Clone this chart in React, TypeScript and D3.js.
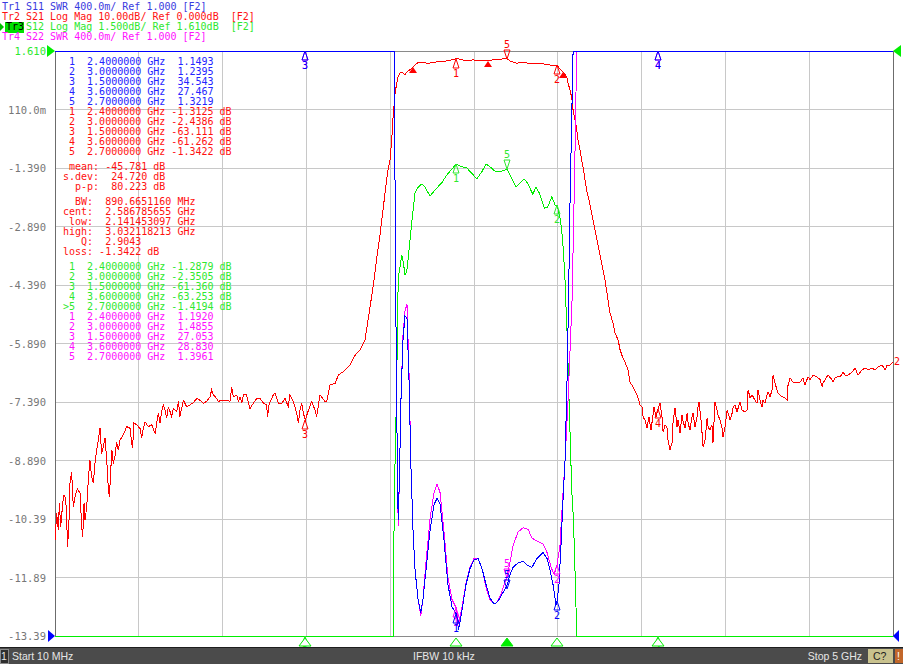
import React from 'react';
import * as d3 from 'd3';

// ---- sweep / scale settings ----
const startGHz = 0.01;
const stopGHz = 5;
const s21Ref = [-100, 0];          // 10 dB/div, ref 0 dB at top
const s12Ref = [-13.39, 1.61];     // 1.5 dB/div, ref 1.610 dB at top
const swrRef = [1, 5];             // 400m/div, ref 1.000 at bottom

const headerLines = [
  { tag: 'Tr1', rest: 'S11 SWR 400.0m/ Ref 1.000 [F2]', trace: 's11' },
  { tag: 'Tr2', rest: 'S21 Log Mag 10.00dB/ Ref 0.000dB  [F2]', trace: 's21' },
  { tag: 'Tr3', rest: 'S12 Log Mag 1.500dB/ Ref 1.610dB  [F2]', trace: 's12' },
  { tag: 'Tr4', rest: 'S22 SWR 400.0m/ Ref 1.000 [F2]', trace: 's22' },
];

const yTickLabels = ['1.610', '110.0m', '-1.390', '-2.890', '-4.390', '-5.890', '-7.390', '-8.890', '-10.39', '-11.89', '-13.39'];

// ---- markers ----
const markerFreqs = [2.4, 3.0, 1.5, 3.6, 2.7];
const markerFreqText = ['2.4000000', '3.0000000', '1.5000000', '3.6000000', '2.7000000'];
const s11Marks = ['1.1493', '1.2395', '34.543', '27.467', '1.3219'];
const s21Marks = ['-1.3125', '-2.4386', '-63.111', '-61.262', '-1.3422'];
const s12Marks = ['-1.2879', '-2.3505', '-61.360', '-63.253', '-1.4194'];
const s22Marks = ['1.1920', '1.4855', '27.053', '28.830', '1.3961'];

const statsLines = [['mean:', '-45.781'], ['s.dev:', '24.720'], ['p-p:', '80.223']];
const bwLines = [
  ['BW:', '890.6651160', 'MHz'],
  ['cent:', '2.586785655', 'GHz'],
  ['low:', '2.141453097', 'GHz'],
  ['high:', '3.032118213', 'GHz'],
  ['Q:', '2.9043', ''],
  ['loss:', '-1.3422', 'dB'],
];
const bwFreqs = [2.141453097, 2.586785655, 3.032118213];

// ---- traces: [GHz, value] ----
const s21Points: [number, number][] = [
  [0.01,-83.6],[0.020,-79.0],[0.030,-81.9],[0.036,-77.3],[0.044,-81.3],[0.056,-77.3],[0.064,-75.9],[0.074,-76.5],[0.080,-80.7],[0.085,-84.7],
  [0.093,-80.7],[0.099,-73.9],[0.109,-71.9],[0.119,-77.9],[0.129,-76.2],[0.143,-74.8],[0.159,-75.6],[0.169,-81.3],[0.175,-83.0],[0.183,-77.3],
  [0.189,-80.2],[0.199,-77.9],[0.209,-73.0],[0.218,-69.9],[0.228,-72.8],[0.238,-73.9],[0.248,-70.5],[0.258,-68.2],[0.268,-66.5],[0.278,-64.5],
  [0.288,-68.8],[0.298,-67.6],[0.308,-66.2],[0.318,-69.9],[0.328,-75.0],[0.334,-76.2],[0.342,-71.6],[0.349,-68.2],[0.357,-70.5],[0.367,-69.3],
  [0.377,-66.8],[0.387,-68.2],[0.397,-66.5],[0.417,-65.6],[0.437,-64.2],[0.457,-64.5],[0.466,-66.8],[0.472,-67.9],[0.480,-63.6],[0.496,-63.9],
  [0.516,-64.5],[0.526,-66.2],[0.536,-64.5],[0.546,-63.4],[0.566,-64.2],[0.586,-63.9],[0.606,-65.4],[0.616,-63.6],[0.625,-61.9],[0.635,-63.6],
  [0.645,-61.7],[0.655,-60.5],[0.665,-61.4],[0.675,-62.8],[0.685,-60.8],[0.705,-62.5],[0.715,-61.1],[0.735,-61.6],[0.745,-59.9],[0.754,-62.5],
  [0.774,-59.7],[0.794,-60.8],[0.814,-60.5],[0.834,-60.1],[0.854,-59.4],[0.874,-59.7],[0.894,-60.2],[0.913,-59.9],[0.933,-59.1],[0.943,-57.9],
  [0.953,-58.8],[0.973,-59.4],[0.983,-59.9],[1.003,-59.7],[1.033,-59.7],[1.052,-59.9],[1.062,-57.4],[1.072,-59.1],[1.092,-58.8],[1.102,-59.9],
  [1.112,-59.1],[1.122,-60.2],[1.132,-58.8],[1.151,-58.8],[1.171,-61.1],[1.191,-60.2],[1.211,-59.4],[1.231,-59.4],[1.251,-60.2],[1.270,-60.5],
  [1.276,-62.5],[1.286,-60.2],[1.310,-58.8],[1.320,-58.5],[1.340,-60.2],[1.360,-60.2],[1.380,-59.4],[1.399,-60.8],[1.409,-58.8],[1.429,-59.9],
  [1.449,-61.9],[1.459,-63.6],[1.469,-61.4],[1.479,-60.2],[1.489,-61.9],[1.500,-63.1],[1.519,-61.4],[1.539,-59.9],[1.558,-61.4],[1.568,-62.5],
  [1.588,-58.8],[1.618,-59.9],[1.628,-59.9],[1.648,-57.1],[1.678,-56.8],[1.697,-55.4],[1.727,-54.8],[1.737,-54.5],[1.767,-53.7],[1.797,-52.0],
  [1.826,-51.1],[1.856,-49.4],[1.874,-46.0],[1.892,-42.6],[1.910,-39.1],[1.928,-34.9],[1.945,-31.5],[1.963,-27.2],[1.981,-22.9],[1.993,-20.3],
  [2.005,-18.6],[2.015,-15.2],[2.023,-11.3],[2.035,-7.2],[2.045,-5.5],[2.053,-4.4],[2.064,-3.8],[2.075,-3.6],[2.082,-3.8],[2.094,-4.1],
  [2.104,-3.6],[2.124,-3.2],[2.142,-2.7],[2.164,-2.1],[2.184,-1.9],[2.231,-2.1],[2.273,-1.9],[2.343,-1.7],[2.400,-1.3],[2.422,-1.4],
  [2.462,-1.7],[2.499,-1.5],[2.541,-1.7],[2.581,-1.7],[2.618,-1.5],[2.660,-1.4],[2.700,-1.3],[2.720,-1.7],[2.759,-2.1],[2.797,-1.9],
  [2.839,-2.2],[2.879,-2.1],[2.916,-2.2],[2.958,-2.4],[3.000,-2.4],[3.017,-3.1],[3.035,-3.6],[3.057,-4.4],[3.065,-5.5],[3.077,-6.7],
  [3.087,-8.0],[3.095,-10.1],[3.107,-11.8],[3.117,-13.5],[3.124,-15.2],[3.136,-16.9],[3.146,-18.6],[3.154,-19.8],[3.176,-23.8],[3.196,-26.3],
  [3.226,-30.6],[3.255,-34.9],[3.285,-39.1],[3.303,-42.6],[3.315,-44.8],[3.333,-46.5],[3.345,-48.2],[3.363,-49.4],[3.375,-51.1],[3.392,-52.5],
  [3.404,-53.2],[3.422,-54.5],[3.434,-56.6],[3.452,-57.4],[3.476,-58.8],[3.494,-60.5],[3.506,-60.9],[3.512,-62.6],[3.524,-63.1],[3.535,-64.4],
  [3.547,-62.6],[3.559,-64.8],[3.571,-62.2],[3.577,-60.9],[3.589,-62.6],[3.600,-61.3],[3.613,-60.2],[3.625,-62.6],[3.631,-65.1],[3.643,-63.9],
  [3.654,-64.3],[3.660,-66.5],[3.672,-68.2],[3.684,-67.0],[3.690,-63.6],[3.702,-61.0],[3.714,-64.3],[3.720,-63.1],[3.732,-65.3],[3.744,-62.2],
  [3.750,-63.4],[3.762,-64.4],[3.774,-61.9],[3.780,-63.6],[3.791,-64.8],[3.803,-62.6],[3.809,-61.9],[3.821,-64.3],[3.833,-62.6],[3.839,-60.9],
  [3.845,-60.0],[3.857,-63.1],[3.863,-65.3],[3.869,-67.7],[3.881,-66.5],[3.893,-62.7],[3.899,-64.3],[3.910,-64.8],[3.922,-63.9],[3.928,-67.0],
  [3.940,-60.0],[3.952,-61.4],[3.958,-62.2],[3.970,-63.1],[3.982,-64.4],[3.988,-66.0],[4.000,-64.3],[4.012,-61.4],[4.018,-61.9],[4.030,-63.1],
  [4.042,-61.9],[4.048,-60.9],[4.059,-60.5],[4.071,-61.7],[4.089,-60.0],[4.101,-61.4],[4.119,-61.7],[4.131,-61.4],[4.137,-57.9],[4.149,-59.3],
  [4.161,-58.8],[4.167,-59.1],[4.178,-59.7],[4.190,-60.2],[4.196,-57.9],[4.208,-59.7],[4.220,-60.9],[4.226,-59.7],[4.238,-60.2],[4.250,-58.8],
  [4.256,-58.3],[4.268,-59.1],[4.280,-57.9],[4.286,-55.4],[4.298,-56.8],[4.309,-57.9],[4.315,-58.5],[4.339,-59.1],[4.357,-59.3],[4.369,-59.7],
  [4.375,-57.1],[4.387,-55.9],[4.405,-56.6],[4.429,-56.6],[4.446,-56.6],[4.464,-55.9],[4.476,-57.1],[4.494,-55.7],[4.506,-56.2],[4.524,-55.4],
  [4.548,-55.7],[4.566,-56.2],[4.578,-57.4],[4.583,-56.8],[4.595,-56.2],[4.613,-55.4],[4.637,-56.2],[4.643,-56.6],[4.655,-55.9],[4.667,-55.7],
  [4.685,-55.7],[4.703,-54.9],[4.714,-55.4],[4.732,-55.4],[4.756,-54.9],[4.774,-54.2],[4.792,-55.4],[4.816,-54.5],[4.834,-54.2],[4.851,-54.5],
  [4.875,-54.2],[4.893,-54.5],[4.911,-54.0],[4.935,-53.7],[4.953,-54.5],[4.965,-53.7],[4.982,-53.7],[5.000,-53.2],
];

const s12Points: [number, number][] = [
  [0.01,-62],[1.5,-61.4],[2.0,-55],[2.017,-40],[2.024,-13.6],[2.025,-11.78],[2.035,-8.88],[2.044,-7.08],[2.050,-5.29],[2.054,-4.19],
  [2.064,-3.93],[2.075,-3.62],[2.084,-3.80],[2.094,-4.13],[2.104,-4.06],[2.114,-3.67],[2.128,-3.06],[2.138,-2.65],[2.154,-2.03],[2.173,-1.88],
  [2.194,-1.80],[2.213,-1.88],[2.243,-2.11],[2.273,-1.95],[2.313,-1.77],[2.343,-1.57],[2.372,-1.42],[2.400,-1.29],[2.422,-1.34],[2.462,-1.39],
  [2.491,-1.52],[2.521,-1.67],[2.551,-1.49],[2.577,-1.29],[2.600,-1.36],[2.630,-1.47],[2.660,-1.49],[2.700,-1.42],[2.720,-1.57],[2.755,-1.88],
  [2.779,-1.77],[2.803,-1.67],[2.823,-1.77],[2.855,-2.06],[2.874,-1.88],[2.894,-2.03],[2.924,-2.42],[2.944,-2.39],[2.968,-2.13],[2.988,-2.34],
  [3.000,-2.35],[3.017,-2.67],[3.027,-2.98],[3.037,-3.49],[3.047,-4.26],[3.053,-4.95],[3.061,-5.80],[3.071,-7.34],[3.080,-8.62],[3.087,-9.65],
  [3.095,-10.24],[3.101,-10.93],[3.107,-11.78],[3.117,-13.39],[3.122,-20],[3.6,-63.3],[5.0,-62],
];

const s11Points: [number, number][] = [
  [0.01,40],[1.5,34.5],[2.0,30],[2.030,12],[2.039,3.30],[2.045,2.61],[2.049,2.07],[2.054,1.79],[2.062,2.14],[2.070,2.61],
  [2.082,3.02],[2.094,3.19],[2.106,3.17],[2.118,2.75],[2.130,2.14],[2.142,1.72],[2.154,1.45],[2.172,1.25],[2.188,1.16],[2.201,1.25],
  [2.219,1.45],[2.243,1.72],[2.267,1.90],[2.285,1.94],[2.303,1.90],[2.326,1.66],[2.350,1.35],[2.374,1.20],[2.400,1.15],[2.413,1.04],
  [2.434,1.18],[2.457,1.35],[2.481,1.46],[2.505,1.52],[2.529,1.53],[2.553,1.46],[2.577,1.35],[2.600,1.26],[2.624,1.22],[2.642,1.23],
  [2.660,1.26],[2.684,1.31],[2.700,1.34],[2.720,1.42],[2.738,1.47],[2.767,1.50],[2.797,1.51],[2.827,1.48],[2.850,1.47],[2.880,1.53],
  [2.916,1.57],[2.940,1.53],[2.958,1.45],[2.976,1.35],[2.994,1.21],[3.000,1.24],[3.011,1.35],[3.023,1.62],[3.035,1.93],[3.047,2.20],
  [3.059,2.75],[3.068,3.30],[3.077,3.98],[3.087,4.55],[3.095,5.0],[3.101,9],[3.6,27.5],[5.0,30],
];

const s22Points: [number, number][] = [
  [0.01,40],[1.5,27],[2.0,30],[2.030,12],[2.039,3.30],[2.045,2.61],[2.049,2.07],[2.054,1.75],[2.062,2.14],[2.070,2.61],
  [2.082,3.05],[2.094,3.22],[2.106,3.27],[2.118,2.80],[2.130,2.14],[2.142,1.72],[2.154,1.45],[2.172,1.25],[2.188,1.14],[2.201,1.25],
  [2.219,1.50],[2.243,1.80],[2.267,1.98],[2.285,2.04],[2.303,1.98],[2.326,1.72],[2.350,1.40],[2.374,1.25],[2.400,1.19],[2.413,1.08],
  [2.434,1.20],[2.457,1.36],[2.481,1.47],[2.505,1.53],[2.529,1.53],[2.553,1.46],[2.577,1.33],[2.600,1.25],[2.624,1.22],[2.642,1.23],
  [2.660,1.27],[2.684,1.35],[2.700,1.40],[2.720,1.51],[2.738,1.62],[2.767,1.71],[2.797,1.74],[2.827,1.73],[2.850,1.67],[2.880,1.65],
  [2.916,1.63],[2.940,1.57],[2.964,1.47],[2.982,1.42],[3.000,1.49],[3.017,1.62],[3.029,1.86],[3.047,2.20],[3.065,2.61],[3.089,3.30],
  [3.101,3.98],[3.110,4.53],[3.116,5.0],[3.122,9],[3.6,28.8],[5.0,30],
];

const W = 903;
const H = 664;
const plot = { left: 55, right: 893, top: 51, bottom: 636 };

const colors = {
  s11: '#0000ff', s21: '#ff0000', s12: '#00ee00', s22: '#ff00ff',
  s11Text: '#2424ff', s21Text: '#ff1010', s12Text: '#2ee82e', s22Text: '#ff10ff',
  grid: '#c8c8c8', frame: '#6c6c6c', axisText: '#777777',
};
const mono = "'DejaVu Sans Mono', monospace";
const sans = "'Liberation Sans', Arial, sans-serif";

const x = d3.scaleLinear().domain([startGHz, stopGHz]).range([plot.left, plot.right]);
const yS21 = d3.scaleLinear().domain(s21Ref).range([plot.bottom, plot.top]).clamp(true);
const yS12 = d3.scaleLinear().domain(s12Ref).range([plot.bottom, plot.top]).clamp(true);
const ySwr = d3.scaleLinear().domain(swrRef).range([plot.bottom, plot.top]).clamp(true);

function tracePath(points: [number, number][], y: d3.ScaleLinear<number, number>) {
  return d3.line<[number, number]>().x(d => x(d[0])).y(d => y(d[1]))(points) || '';
}

// value of trace at a frequency (linear between read points)
function valueAt(points: [number, number][], f: number) {
  const i = d3.bisector((d: [number, number]) => d[0]).left(points, f);
  if (i <= 0) return points[0][1];
  if (i >= points.length) return points[points.length - 1][1];
  const [f0, v0] = points[i - 1];
  const [f1, v1] = points[i];
  return v0 + (v1 - v0) * (f - f0) / (f1 - f0);
}

function Markers({ values, y, color }: { values: string[]; y: d3.ScaleLinear<number, number>; color: string }) {
  return (
    <g>
      {markerFreqs.map((f, i) => {
        const px = Math.round(x(f));
        const py = Math.round(y(+values[i]));
        const up = i === 4; // marker 5 drawn above the trace
        const d = up
          ? `M${px},${py} L${px - 3},${py - 9} L${px + 3},${py - 9} Z`
          : `M${px},${py} L${px - 3},${py + 9} L${px + 3},${py + 9} Z`;
        return (
          <g key={i}>
            <path d={d} fill="none" stroke={color} strokeWidth={1} />
            <text x={px} y={up ? py - 11 : py + 18} textAnchor="middle" fontFamily={mono} fontSize={10} fill={color}>
              {i + 1}
            </text>
          </g>
        );
      })}
    </g>
  );
}

const signed = (v: string) => (v.startsWith('-') ? v : ' ' + v);
const markerRow = (n: number, val: string, unit: string, active: boolean) =>
  (active ? '>' : ' ') + n + '  ' + markerFreqText[n - 1] + ' GHz ' + val.padStart(7) + (unit ? ' ' + unit : '');

export default function App() {
  const xGrid = d3.range(11).map(i => startGHz + i * (stopGHz - startGHz) / 10);
  const yGrid = d3.range(11).map(i => s12Ref[1] - i * 1.5);

  const tableBlocks = [
    { rows: s11Marks.map((v, i) => markerRow(i + 1, v, '', false)), top: 61, color: colors.s11Text },
    { rows: s21Marks.map((v, i) => markerRow(i + 1, v, 'dB', false)), top: 111, color: colors.s21Text },
    { rows: statsLines.map(([l, v]) => l.padStart(6) + ' ' + signed(v) + ' dB'), top: 166, color: colors.s21Text },
    { rows: bwLines.map(([l, v, u]) => l.padStart(5) + ' ' + signed(v) + (u ? ' ' + u : '')), top: 201, color: colors.s21Text },
    { rows: s12Marks.map((v, i) => markerRow(i + 1, v, 'dB', i === 4)), top: 266, color: colors.s12Text },
    { rows: s22Marks.map((v, i) => markerRow(i + 1, v, '', false)), top: 316, color: colors.s22Text },
  ];

  const headerColor: Record<string, string> = { s11: '#3a3ae0', s21: colors.s21Text, s12: colors.s12Text, s22: colors.s22Text };

  return (
    <svg width={W} height={H} style={{ display: 'block', position: 'absolute', left: 0, top: 0, background: '#ffffff' }}>
      <rect x={0} y={0} width={W} height={H} fill="#ffffff" />

      {/* grid */}
      <g shapeRendering="crispEdges">
        {xGrid.map((f, i) => (
          <line key={'vx' + i} x1={x(f)} x2={x(f)} y1={plot.top} y2={plot.bottom} stroke={colors.grid} />
        ))}
        {yGrid.map((v, i) => (
          <line key={'hy' + i} x1={plot.left} x2={plot.right} y1={yS12(v)} y2={yS12(v)} stroke={colors.grid} />
        ))}
        <rect x={plot.left} y={plot.top} width={plot.right - plot.left} height={plot.bottom - plot.top} fill="none" stroke="#8a8a8a" />
        <line x1={plot.left} x2={plot.left} y1={plot.top} y2={plot.bottom} stroke={colors.frame} />
        <line x1={plot.right} x2={plot.right} y1={plot.top} y2={plot.bottom} stroke={colors.frame} />
      </g>

      {/* traces */}
      <g fill="none" strokeWidth={1} shapeRendering="crispEdges">
        <path d={tracePath(s12Points, yS12)} stroke={colors.s12} />
        <path d={tracePath(s21Points, yS21)} stroke={colors.s21} />
        <path d={tracePath(s22Points, ySwr)} stroke={colors.s22} />
        <path d={tracePath(s11Points, ySwr)} stroke={colors.s11} />
      </g>

      {/* markers */}
      <Markers values={s12Marks} y={yS12} color={colors.s12Text} />
      <Markers values={s21Marks} y={yS21} color={colors.s21} />
      <Markers values={s22Marks} y={ySwr} color={colors.s22} />
      <Markers values={s11Marks} y={ySwr} color={colors.s11} />

      {/* bandwidth search markers on S21 */}
      {bwFreqs.map((f, i) => {
        const px = Math.round(x(f));
        const py = Math.round(yS21(valueAt(s21Points, f)));
        return <path key={'bw' + i} d={`M${px},${py} L${px - 4},${py + 6} L${px + 4},${py + 6} Z`} fill={colors.s21} />;
      })}

      {/* trace 2 end label */}
      <text x={plot.right + 1} y={Math.round(yS21(s21Points[s21Points.length - 1][1])) + 3} fontFamily={mono} fontSize={10} fill={colors.s21}>2</text>

      {/* active trace marker positions under the grid */}
      {markerFreqs.map((f, i) => {
        const px = Math.round(x(f));
        return (
          <path key={'pos' + i} d={`M${px},${plot.bottom + 2} L${px - 6},${plot.bottom + 10} L${px + 6},${plot.bottom + 10} Z`}
            fill={i === 4 ? colors.s12 : '#ffffff'} stroke={colors.s12} />
        );
      })}

      {/* marker table */}
      {tableBlocks.map((b, bi) => (
        <g key={'tb' + bi}>
          {b.rows.map((r, ri) => (
            <text key={ri} x={63} y={b.top + ri * 10 + 3.5} fontFamily={mono} fontSize={10} fill={b.color} style={{ whiteSpace: 'pre' }}>
              {r}
            </text>
          ))}
        </g>
      ))}

      {/* y axis labels */}
      {yTickLabels.map((t, i) => (
        <text key={'yl' + i} x={46} y={yS12(yGrid[i]) + 4} textAnchor="end" fontFamily={mono} fontSize={10.5}
          fill={i === 0 ? colors.s12Text : colors.axisText}>
          {t}
        </text>
      ))}

      {/* reference position arrows */}
      <polygon points={`47,${plot.top - 6} ${plot.left},${plot.top} 47,${plot.top + 6}`} fill={colors.s12} />
      <polygon points={`48,${plot.bottom - 6} ${plot.left},${plot.bottom} 48,${plot.bottom + 6}`} fill={colors.s11} />
      <polygon points={`901,${plot.top - 6} ${plot.right},${plot.top} 901,${plot.top + 6}`} fill={colors.s12} />
      <polygon points={`899,${plot.bottom - 6} ${plot.right},${plot.bottom} 899,${plot.bottom + 6}`} fill={colors.s11} />

      {/* header */}
      {headerLines.map((h, i) => {
        const base = 10 + i * 10;
        const active = h.trace === 's12';
        return (
          <g key={'hd' + i}>
            {active && <rect x={5} y={base - 8} width={19} height={11} fill="#00e000" />}
            {active && <polygon points={`0,${base - 7} 4,${base - 3} 0,${base + 1}`} fill="#00c000" />}
            <text x={active ? 6 : 2} y={base} fontFamily={mono} fontSize={10} fill={active ? '#000000' : headerColor[h.trace]}>{h.tag}</text>
            <text x={26} y={base} fontFamily={mono} fontSize={10} fill={headerColor[h.trace]} style={{ whiteSpace: 'pre' }}>{h.rest}</text>
          </g>
        );
      })}

      {/* status bar */}
      <g shapeRendering="crispEdges">
        <rect x={0} y={647} width={W} height={1} fill="#1e1e1e" />
        <rect x={0} y={648} width={W} height={16} fill="#4b4b4b" />
        <rect x={0} y={649} width={8} height={14} fill="#2e2e2e" stroke="#8a8a8a" />
        <rect x={868} y={649} width={25} height={14} fill="#c9c28e" />
        <rect x={895} y={649} width={8} height={14} fill="#c2672a" />
      </g>
      <text x={1} y={660} fontFamily={sans} fontSize={10.5} fill="#e6e6e6">1</text>
      <text x={12} y={660} fontFamily={sans} fontSize={10.5} fill="#e6e6e6">Start 10 MHz</text>
      <text x={413} y={660} fontFamily={sans} fontSize={10.5} fill="#e6e6e6">IFBW 10 kHz</text>
      <text x={862} y={660} textAnchor="end" fontFamily={sans} fontSize={10.5} fill="#e6e6e6">Stop 5 GHz</text>
      <text x={873} y={660} fontFamily={sans} fontSize={10.5} fill="#202020">C?</text>
      <text x={897} y={660} fontFamily={sans} fontSize={10.5} fill="#ffffff">!</text>
    </svg>
  );
}
